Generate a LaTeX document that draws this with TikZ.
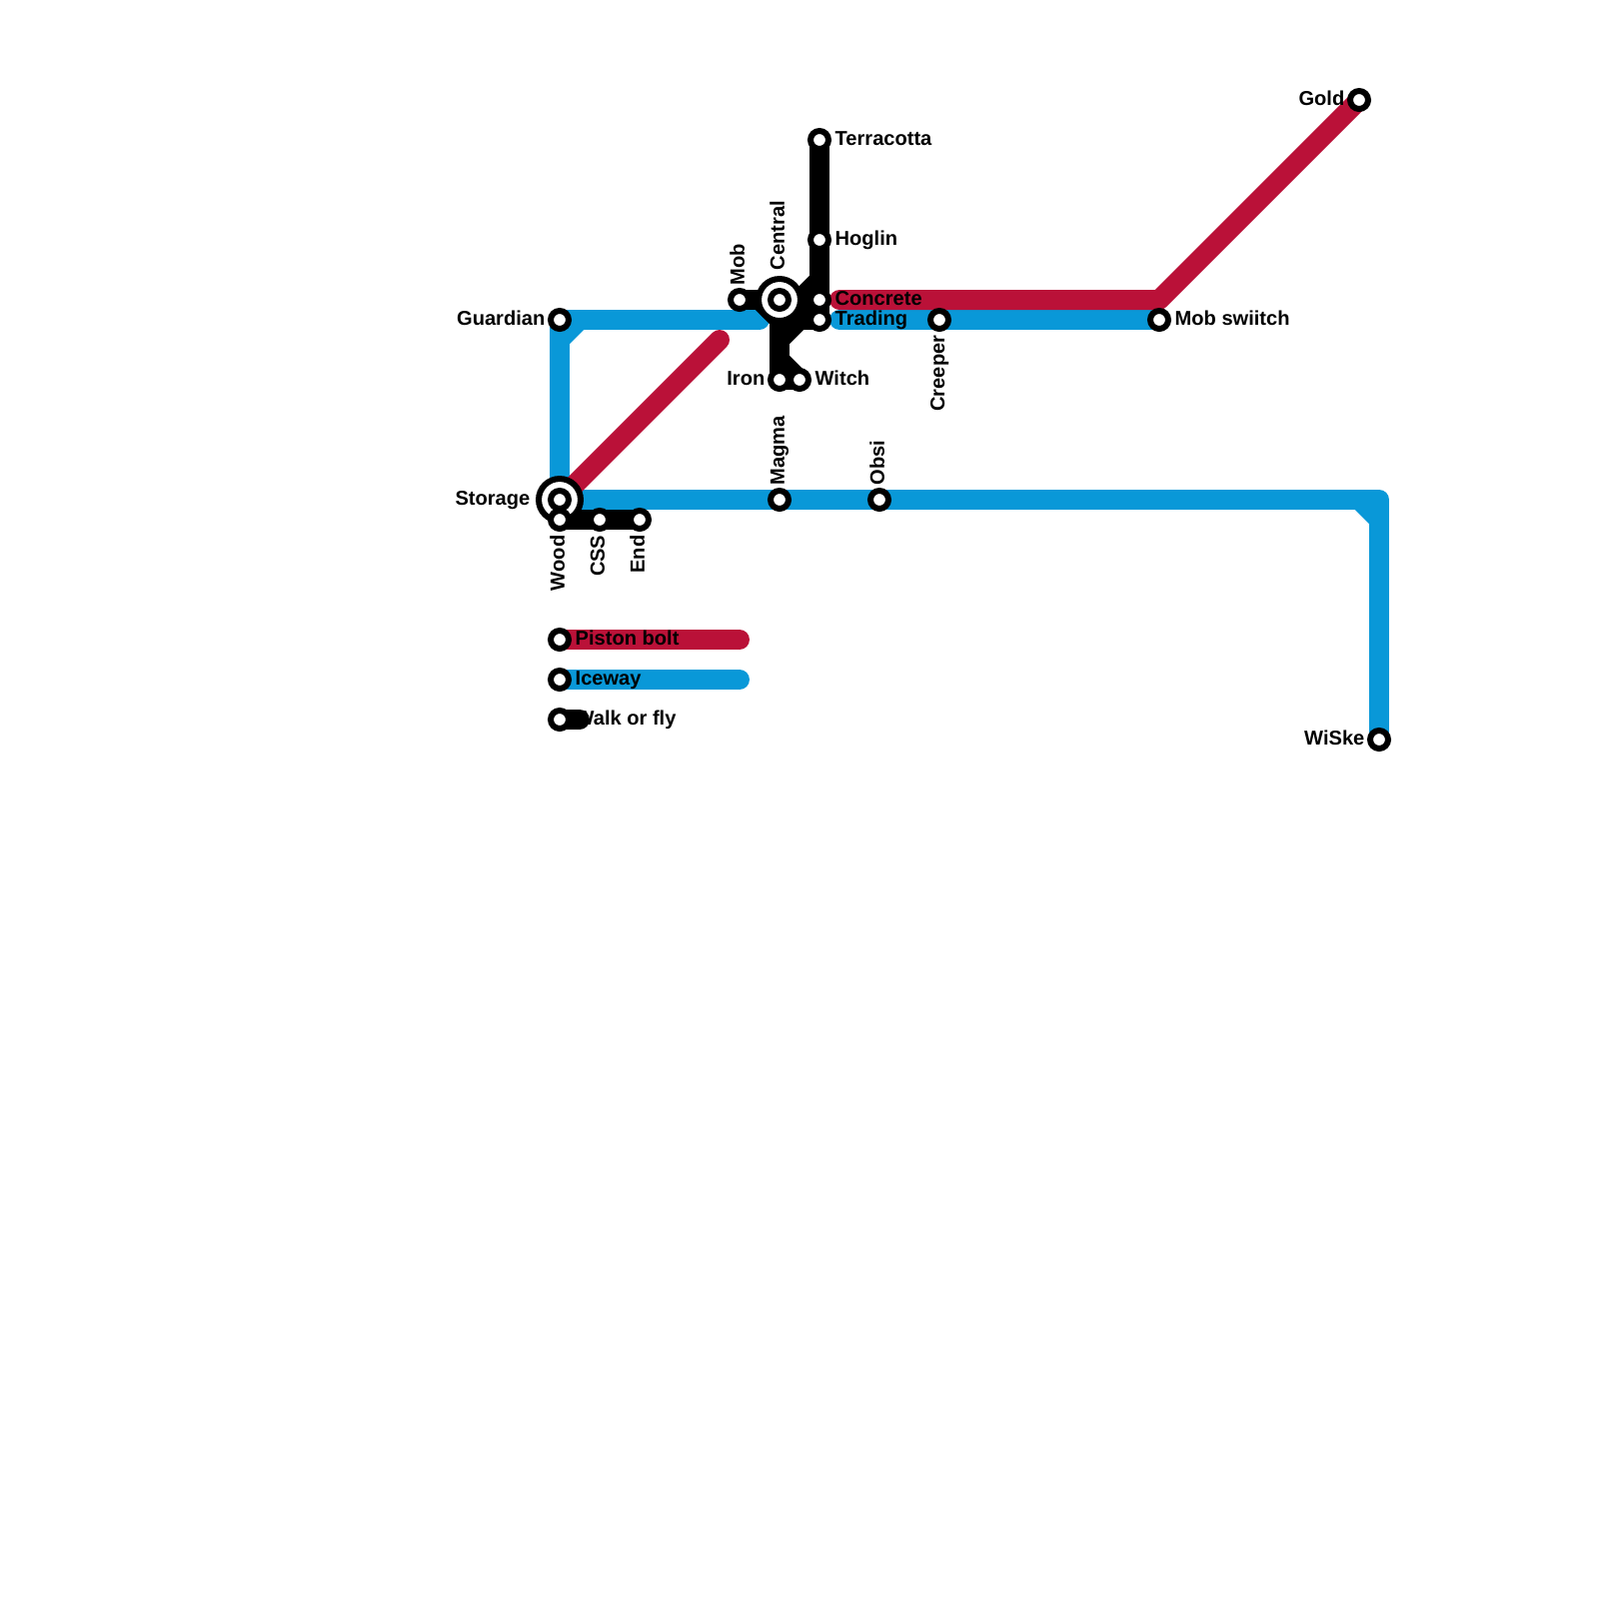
\documentclass[tikz,border=0pt]{standalone}
\usepackage{fontspec}
\setmainfont{Liberation Sans}
\usetikzlibrary{backgrounds}
\definecolor{iceblue}{HTML}{0998D8}
\definecolor{boltred}{HTML}{BA1138}
\tikzset{
  track/.style={line width=2mm,line cap=round,line join=round},
  iceway/.style={track,iceblue},
  pistonbolt/.style={track,boltred},
  walkfly/.style={track,black},
  stop/.style={circle,draw=black,fill=white,line width=.6mm,minimum size=1.8mm,inner sep=0pt,outer sep=0pt},
  hub/.style={stop,minimum size=4.2mm},
  txt/.style={inner sep=0pt,font=\fontsize{5.72pt}{6pt}\selectfont\bfseries},
  toright/.style={txt,xshift=1.5mm,yshift=-.5mm,anchor=base west},
  toleft/.style={txt,xshift=-1.4mm,yshift=-.5mm,anchor=base east},
  toup/.style={txt,xshift=.5mm,yshift=1.4mm,rotate=90,anchor=base west},
  todown/.style={txt,xshift=.5mm,yshift=-1.5mm,rotate=90,anchor=base east}
}
\begin{document}
\begin{tikzpicture}[x=.28375bp,y=-.28375bp]
  \useasboundingbox (0,0) rectangle (1600,1600);
  \node[hub] (storagehub) at (560,500) {};
  \node[stop] (storage) at (560,500) {};
  \node[stop] (wood) at (560,520) {};
  \node[stop] (css) at (600,520) {};
  \node[stop] (end) at (640,520) {};
  \node[stop] (guardian) at (560,320) {};
  \node[stop] (mob) at (740,300) {};
  \node[hub] (centralhub) at (780,300) {};
  \node[stop] (central) at (780,300) {};
  \node[stop] (terracotta) at (820,140) {};
  \node[stop] (hoglin) at (820,240) {};
  \node[stop] (concrete) at (820,300) {};
  \node[stop] (trading) at (820,320) {};
  \node[stop] (iron) at (780,380) {};
  \node[stop] (witch) at (800,380) {};
  \node[stop] (creeper) at (940,320) {};
  \node[stop] (mobswitch) at (1160,320) {};
  \node[stop] (gold) at (1360,100) {};
  \node[stop] (magma) at (780,500) {};
  \node[stop] (obsi) at (880,500) {};
  \node[stop] (wiske) at (1380,740) {};
  \node[stop] (boltkey) at (560,640) {};
  \node[stop] (icekey) at (560,680) {};
  \node[stop] (walkkey) at (560,720) {};

  \coordinate (iceend) at (760,320);
  \coordinate (icestart) at (840,320);
  \coordinate (boltstart) at (840,300);
  \coordinate (boltbend) at (1160,300);
  \coordinate (boltend) at (720,340);
  \coordinate (corner) at (1380,500);
  \coordinate (boltkeyend) at (740,640);
  \coordinate (icekeyend) at (740,680);
  \coordinate (walkkeyend) at (580,720);

  \begin{scope}[on background layer]
    \draw[iceway] (storage.center)--(guardian.center)--(iceend);
    \draw[iceway] (560,340)--(580,320);
    \draw[iceway] (icestart)--(creeper.center)--(mobswitch.center);
    \draw[iceway] (storage.center)--(magma.center)--(obsi.center)--(corner)--(wiske.center);
    \draw[iceway] (1360,500)--(1380,520);
    \draw[iceway] (icekey.center)--(icekeyend);
    \draw[pistonbolt] (boltstart)--(boltbend)--(gold.center);
    \draw[pistonbolt] (storage.center)--(boltend);
    \draw[pistonbolt] (boltkey.center)--(boltkeyend);
    \draw[walkfly] (mob.center)--(central.center)--(iron.center)--(witch.center);
    \draw[walkfly] (terracotta.center)--(hoglin.center)--(concrete.center)--(trading.center)--(780,320);
    \draw[walkfly] (central.center)--(concrete.center);
    \draw[walkfly] (820,280)--(780,320);
    \draw[walkfly] (800,320)--(780,340);
    \draw[walkfly] (760,300)--(780,320);
    \draw[walkfly] (780,360)--(witch.center);
    \draw[walkfly] (wood.center)--(css.center)--(end.center);
    \draw[walkfly] (walkkey.center)--(walkkeyend);
  \end{scope}

  \node[toright] (terracottatxt) at (terracotta) {Terracotta};
  \node[toright] (hoglintxt) at (hoglin) {Hoglin};
  \node[toright] (concretetxt) at (concrete) {Concrete};
  \node[toright] (tradingtxt) at (trading) {Trading};
  \node[toright] (witchtxt) at (witch) {Witch};
  \node[toright] (mobswitchtxt) at (mobswitch) {Mob swiitch};
  \node[toright] (bolttxt) at (boltkey) {Piston bolt};
  \node[toright] (icetxt) at (icekey) {Iceway};
  \node[toright] (walktxt) at (walkkey) {Walk or fly};
  \node[toleft] (guardiantxt) at (guardian) {Guardian};
  \node[toleft,xshift=-1.5mm] (storagetxt) at (storagehub) {Storage};
  \node[toleft] (irontxt) at (iron) {Iron};
  \node[toleft] (goldtxt) at (gold) {Gold};
  \node[toleft] (wisketxt) at (wiske) {WiSke};
  \node[toup] (mobtxt) at (mob) {Mob};
  \node[yshift=1.5mm,toup] (centraltxt) at (central) {Central};
  \node[toup] (magmatxt) at (magma) {Magma};
  \node[toup] (obsitxt) at (obsi) {Obsi};
  \node[todown] (creepertxt) at (creeper) {Creeper};
  \node[todown] (woodtxt) at (wood) {Wood};
  \node[todown] (csstxt) at (css) {CSS};
  \node[todown] (endtxt) at (end) {End};
\end{tikzpicture}
\end{document}
